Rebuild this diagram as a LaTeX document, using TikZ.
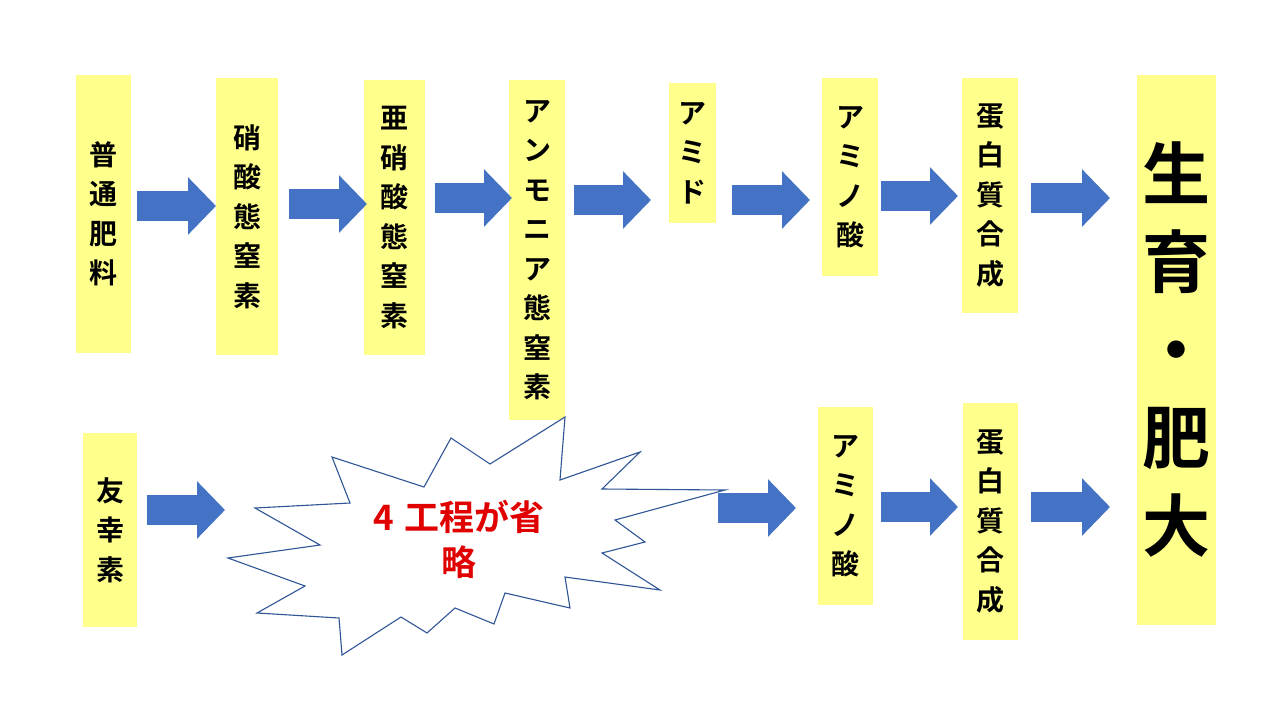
\documentclass[tikz,border=0pt]{standalone}
\usepackage{fontspec}
\newfontfamily\jp{Noto Sans CJK JP Bold}
\usetikzlibrary{arrows.meta}
\definecolor{boxyellow}{HTML}{FFFF8C}
\definecolor{arrowblue}{HTML}{4472C4}
\definecolor{starline}{HTML}{2F5597}
\definecolor{alertred}{HTML}{E00000}
\begin{document}
\begin{tikzpicture}[x=1pt,y=-1pt,
  box/.style={fill=boxyellow, draw=none, inner sep=0pt, align=center,
    font=\jp\fontsize{28}{39.5}\selectfont},
  bigbox/.style={box, font=\jp\fontsize{68}{88}\selectfont},
  blk/.style={draw=arrowblue, line width=30pt, line cap=butt,
    -{Triangle[length=28pt,width=56pt,fill=arrowblue]}},
  burst/.style={draw=starline, line width=1.1pt, fill=white, line join=miter},
  burstlabel/.style={text=alertred, align=center, inner sep=0pt,
    font=\jp\fontsize{35}{45}\selectfont}]
\useasboundingbox[fill=white] (0,0) rectangle (1280,720);

% top row boxes
\node[box, minimum width=55pt, minimum height=278pt] (n1) at (103.5,214) {普\\通\\肥\\料};
\node[box, minimum width=62pt, minimum height=277pt] (n2) at (247,216.5) {硝\\酸\\態\\窒\\素};
\node[box, minimum width=61pt, minimum height=275pt] (n3) at (394.5,217.5) {亜\\硝\\酸\\態\\窒\\素};
\node[box, minimum width=56pt, minimum height=340pt] (n4) at (537,250) {ア\\ン\\モ\\ニ\\ア\\態\\窒\\素};
\node[box, minimum width=47pt, minimum height=140pt] (n5) at (692.5,153) {ア\\ミ\\ド};
\node[box, minimum width=56pt, minimum height=198pt] (n6) at (850,177) {ア\\ミ\\ノ\\酸};
\node[box, minimum width=56pt, minimum height=235pt] (n7) at (990,195.5) {蛋\\白\\質\\合\\成};
\node[bigbox, minimum width=79pt, minimum height=550pt] (n8) at (1176.5,350) {生\\育\\・\\肥\\大};

% bottom row boxes
\node[box, minimum width=54pt, minimum height=194pt] (m1) at (110,530) {友\\幸\\素};
\node[box, minimum width=55pt, minimum height=198pt] (m3) at (845.5,506) {ア\\ミ\\ノ\\酸};
\node[box, minimum width=55pt, minimum height=237pt] (m4) at (990.5,521.5) {蛋\\白\\質\\合\\成};

% starburst
\draw[burst] (255,508) -- (350,503) -- (332,457) -- (424,487) -- (451,438)
  -- (490,464) -- (565,417) -- (560,480) -- (640,452) -- (602,489)
  -- (725,490) -- (615,520) -- (645,542) -- (602,553) -- (660,590)
  -- (565,577) -- (570,608) -- (505,593) -- (494,624) -- (455,608)
  -- (427,633) -- (401,617) -- (342,655) -- (339,618) -- (257,613)
  -- (305,586) -- (228,558) -- (320,545) -- cycle;
\node[burstlabel] (m2) at (459,539) {4\hspace{0.3em}工程が省\\略};

% arrow end points (top row)
\coordinate (a1s) at (137,206);  \coordinate (a1e) at (216,206);
\coordinate (a2s) at (289,204);  \coordinate (a2e) at (367,204);
\coordinate (a3s) at (435,198);  \coordinate (a3e) at (512,198);
\coordinate (a4s) at (574,200);  \coordinate (a4e) at (651,200);
\coordinate (a5s) at (732,200);  \coordinate (a5e) at (810,200);
\coordinate (a6s) at (881,196);  \coordinate (a6e) at (958,196);
\coordinate (a7s) at (1031,198); \coordinate (a7e) at (1110,198);
% bottom row
\coordinate (b1s) at (147,510);  \coordinate (b1e) at (225,510);
\coordinate (b2s) at (718,508);  \coordinate (b2e) at (796,508);
\coordinate (b3s) at (881,507);  \coordinate (b3e) at (958,507);
\coordinate (b4s) at (1031,507); \coordinate (b4e) at (1110,507);

\foreach \a in {a1,a2,a3,a4,a5,a6,a7,b1,b2,b3,b4}
  \draw[blk] (\a s) -- (\a e);
\end{tikzpicture}
\end{document}
